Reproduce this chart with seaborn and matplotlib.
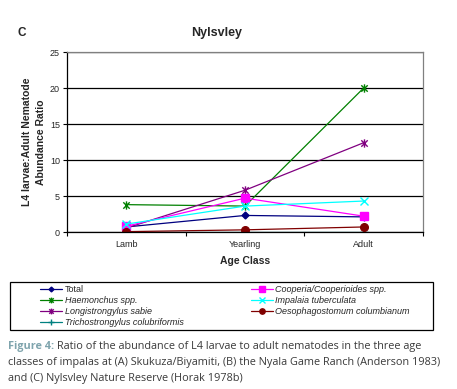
import matplotlib
matplotlib.use("Agg")
import matplotlib.pyplot as plt
from matplotlib.path import Path
from matplotlib.patches import Rectangle
import seaborn as sns
import pandas as pd

# data
age_classes = ["Lamb", "Yearling", "Adult"]
total = [0.7, 2.3, 2.1]
haemonchus = [3.8, 3.6, 20.0]
longistrongylus = [0.55, 5.8, 12.4]
trichostrongylus = [0.0, 0.0, 0.0]
cooperia = [0.8, 4.7, 2.2]
impalaia = [1.1, 3.6, 4.3]
oesophagostomum = [0.05, 0.3, 0.7]

series_names = ["Total", "Haemonchus spp.", "Longistrongylus sabie",
                "Trichostrongylus colubriformis", "Cooperia/Cooperioides spp.",
                "Impalaia tuberculata", "Oesophagostomum columbianum"]
series_values = [total, haemonchus, longistrongylus, trichostrongylus,
                 cooperia, impalaia, oesophagostomum]

star = Path([(-1, -1), (1, 1), (-1, 1), (1, -1), (0, -1.3), (0, 1.3)],
            [Path.MOVETO, Path.LINETO, Path.MOVETO, Path.LINETO, Path.MOVETO, Path.LINETO])

styles = {
    "Total": ("#000080", "D", 3.5),
    "Haemonchus spp.": ("#008000", star, 6),
    "Longistrongylus sabie": ("#800080", star, 6),
    "Trichostrongylus colubriformis": ("#008080", "+", 6),
    "Cooperia/Cooperioides spp.": ("#FF00FF", "s", 5.5),
    "Impalaia tuberculata": ("#00FFFF", "x", 5.5),
    "Oesophagostomum columbianum": ("#800000", "o", 5.5),
}

rows = []
for name, vals in zip(series_names, series_values):
    for i, v in enumerate(vals):
        rows.append({"series": name, "pos": i, "value": v})
df = pd.DataFrame(rows)

sns.set_style("white")
plt.rcParams["font.family"] = ["Liberation Sans", "DejaVu Sans"]

fig = plt.figure(figsize=(4.57, 3.89), dpi=100)
ax = fig.add_axes([67 / 457, 1 - 232 / 389, 356 / 457, 180 / 389])

handles = []
for name in series_names:
    color, marker, ms = styles[name]
    sub = df[df["series"] == name]
    sns.lineplot(data=sub, x="pos", y="value", ax=ax, color=color, marker=marker,
                 markersize=ms, markeredgecolor=color, markerfacecolor=color,
                 markeredgewidth=1.0, linewidth=0.9, label=name, legend=False)
    handles.append(ax.lines[-1])

ax.set_xlim(-0.5, 2.5)
ax.set_ylim(0, 25)
ax.set_yticks([0, 5, 10, 15, 20, 25])
ax.set_xticks([0, 1, 2])
ax.set_xticklabels(age_classes)
ax.set_xticks([-0.5, 0.5, 1.5, 2.5], minor=True)
ax.tick_params(axis="x", which="major", length=0, labelsize=6.5, pad=6)
ax.tick_params(axis="x", which="minor", length=3, width=0.8, color="black", direction="out", bottom=True)
ax.tick_params(axis="y", length=3, width=0.8, color="black", direction="out", labelsize=6.5, left=True, pad=2)
ax.yaxis.grid(True, color="black", linewidth=0.9)
ax.set_axisbelow(True)
for s in ["top", "right"]:
    ax.spines[s].set_color("#808080")
    ax.spines[s].set_linewidth(0.9)
for s in ["left", "bottom"]:
    ax.spines[s].set_color("black")
    ax.spines[s].set_linewidth(0.9)

ax.set_xlabel("Age Class", fontsize=7.5, fontweight="bold", labelpad=5)
ax.set_ylabel("L4 larvae:Adult Nematode\nAbundance Ratio", fontsize=7.5, fontweight="bold",
              labelpad=3, linespacing=1.45)

fig.text(18 / 457, 1 - 33 / 389, "C", fontsize=8.5, fontweight="bold", va="center")
fig.text(217 / 457, 1 - 33 / 389, "Nylsvley", fontsize=9, fontweight="bold", ha="center", va="center")

# legend box
fig.patches.append(Rectangle((10 / 457, 1 - 330 / 389), 423 / 457, 48 / 389,
                             transform=fig.transFigure, fill=False, edgecolor="black", linewidth=0.9))
leg = fig.legend(handles, series_names, loc="upper left", ncol=2, frameon=False,
                 bbox_to_anchor=(38 / 457, 1 - 330 / 389, 374 / 457, 47 / 389),
                 mode="expand", fontsize=6.5, handlelength=2.4, handletextpad=0.3,
                 labelspacing=0.2, borderaxespad=0, borderpad=0.25, markerscale=0.7)
for t in leg.get_texts():
    if t.get_text() != "Total":
        t.set_style("italic")

# caption
cap_font = ["Open Sans", "DejaVu Sans"]
cap_size = 7.8
lab = fig.text(8 / 457, 1 - 347 / 389, "Figure 4:", fontsize=cap_size, fontweight="bold",
               color="#7fa4ad", family=cap_font, va="center")
fig.canvas.draw()
bb = lab.get_window_extent().transformed(fig.transFigure.inverted())
fig.text(bb.x1 + 3 / 457, 1 - 347 / 389,
         "Ratio of the abundance of L4 larvae to adult nematodes in the three age",
         fontsize=cap_size, color="#3a3a3a", family=cap_font, va="center")
fig.text(8 / 457, 1 - 363 / 389,
         "classes of impalas at (A) Skukuza/Biyamiti, (B) the Nyala Game Ranch (Anderson 1983)",
         fontsize=cap_size, color="#3a3a3a", family=cap_font, va="center")
fig.text(8 / 457, 1 - 379 / 389, "and (C) Nylsvley Nature Reserve (Horak 1978b)",
         fontsize=cap_size, color="#3a3a3a", family=cap_font, va="center")

fig.savefig("out.png", dpi=100)
